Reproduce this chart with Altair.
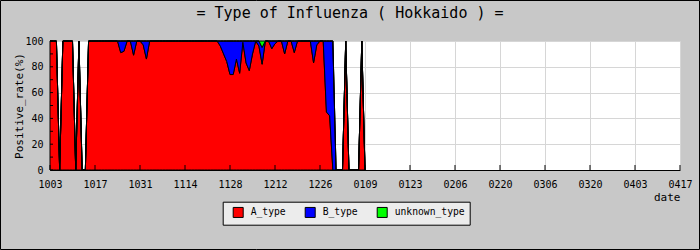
import altair as alt
import pandas as pd

title_text = "= Type of Influenza ( Hokkaido ) ="
start_date = "2016-10-03"
tick_labels = ["1003", "1017", "1031", "1114", "1128", "1212", "1226", "0109",
               "0123", "0206", "0220", "0306", "0320", "0403", "0417"]
series_names = ["A_type", "B_type", "unknown_type"]
series_colors = ["#ff0000", "#0000ff", "#00ff00"]
y_minor_ticks = [0, 10, 20, 30, 40, 50, 60, 70, 80, 90, 100]
y_labels = [0, 20, 40, 60, 80, 100]

# daily positive rate (%) from 10/03
a_type = [100, 100, 100, 0, 100, 100, 100, 100, 0, 100,
          0, 0, 100, 100, 100, 100, 100, 100, 100, 100,
          100, 100, 91, 92, 100, 100, 89, 100, 100, 97,
          86, 100, 100, 100, 100, 100, 100, 100, 100, 100,
          100, 100, 100, 100, 100, 100, 100, 100, 100, 100,
          100, 100, 100, 96, 90, 84, 74, 74, 86, 75,
          99, 83, 77, 90, 100, 96, 82, 100, 100, 94,
          98, 100, 100, 90, 100, 100, 91, 100, 100, 100,
          100, 100, 83, 97, 100, 100, 45, 42, 0, 0,
          0, 0, 100, 0, 0, 0, 0, 100, 0]
b_type = [0, 0, 0, 0, 0, 0, 0, 0, 0, 0,
          0, 0, 0, 0, 0, 0, 0, 0, 0, 0,
          0, 0, 9, 8, 0, 0, 11, 0, 0, 3,
          14, 0, 0, 0, 0, 0, 0, 0, 0, 0,
          0, 0, 0, 0, 0, 0, 0, 0, 0, 0,
          0, 0, 0, 4, 10, 16, 26, 26, 14, 25,
          1, 17, 23, 10, 0, 4, 13, 0, 0, 6,
          2, 0, 0, 10, 0, 0, 9, 0, 0, 0,
          0, 0, 17, 3, 0, 0, 55, 58, 100, 0,
          0, 0, 0, 0, 0, 0, 0, 0, 0]
unknown_type = [0, 0, 0, 0, 0, 0, 0, 0, 0, 0,
                0, 0, 0, 0, 0, 0, 0, 0, 0, 0,
                0, 0, 0, 0, 0, 0, 0, 0, 0, 0,
                0, 0, 0, 0, 0, 0, 0, 0, 0, 0,
                0, 0, 0, 0, 0, 0, 0, 0, 0, 0,
                0, 0, 0, 0, 0, 0, 0, 0, 0, 0,
                0, 0, 0, 0, 0, 0, 5, 0, 0, 0,
                0, 0, 0, 0, 0, 0, 0, 0, 0, 0,
                0, 0, 0, 0, 0, 0, 0, 0, 0, 0,
                0, 0, 0, 0, 0, 0, 0, 0, 0]

dates = pd.date_range(start_date, periods=len(a_type), freq="D")
ms = [int(d.value // 10**6) for d in dates]

rows = []
for i, t in enumerate(ms):
    for k, (name, vals) in enumerate(zip(series_names, [a_type, b_type, unknown_type])):
        rows.append({"t": t, "type": name, "v": vals[i], "k": k})
df = pd.DataFrame(rows)

tick_ms = []
for lab in tick_labels:
    m, d = int(lab[:2]), int(lab[2:])
    y = 2016 if m >= 10 else 2017
    tick_ms.append(int(pd.Timestamp(f"{y}-{m:02d}-{d:02d}").value // 10**6))

FONT = "DejaVu Sans Mono"
x_scale = alt.Scale(type="utc", domain=[tick_ms[0], tick_ms[-1]], nice=False)
y_scale = alt.Scale(domain=[0, 100], nice=False)

x_axis = alt.Axis(
    values=tick_ms, labelExpr="utcFormat(datum.value, '%m%d')", title="date",
    grid=True, ticks=False, labelFlush=False, labelOverlap=False,
    labelPadding=9, titleX=630, titleY=21, titleAlign="right",
    titleBaseline="top", titleAnchor="end")
y_axis = alt.Axis(
    values=y_labels, title="Positive_rate(%)", ticks=False,
    labelPadding=7, labelFlush=False, titleX=-31, titleY=64.5,
    titleAngle=270, titleAlign="center", titleBaseline="middle")

area = alt.Chart(df).mark_area(
    interpolate="linear", stroke="black", strokeWidth=1, opacity=1
).encode(
    x=alt.X("t:T", scale=x_scale, axis=x_axis, title="date"),
    y=alt.Y("v:Q", stack="zero", scale=y_scale, axis=y_axis, title="Positive_rate(%)"),
    color=alt.Color("type:N", scale=alt.Scale(domain=series_names, range=series_colors),
                    legend=alt.Legend(
                        orient="none", legendX=172.7, legendY=160.7, direction="horizontal",
                        title=None, fillColor="#ececec", strokeColor="black", padding=5,
                        symbolType="square", symbolSize=100, symbolStrokeColor="black",
                        symbolStrokeWidth=1, symbolOpacity=1, labelFont=FONT,
                        labelFontSize=9.7, labelOffset=7, columnPadding=14, symbolOffset=5)),
    order=alt.Order("k:Q", sort="ascending"),
)

yticks = alt.Chart(pd.DataFrame({"v": y_minor_ticks})).mark_rule(color="black").encode(
    y=alt.Y("v:Q", scale=y_scale, axis=y_axis, title="Positive_rate(%)"),
    x=alt.value(0), x2=alt.value(3),
)

xticks = alt.Chart(pd.DataFrame({"t": tick_ms})).mark_rule(color="black").encode(
    x=alt.X("t:T", scale=x_scale, axis=x_axis, title="date"),
    y=alt.value(129), y2=alt.value(124),
)

frame = alt.Chart(pd.DataFrame({"a": [0]})).mark_rect(
    filled=False, stroke="black", strokeWidth=1
).encode(
    x=alt.value(-49.5), x2=alt.value(649.5), y=alt.value(-40.5), y2=alt.value(208.5)
)

title = alt.Chart(pd.DataFrame({"title": [title_text]})).mark_text(
    font=FONT, fontSize=15, align="center", baseline="middle", color="black"
).encode(
    text="title:N", x=alt.value(300), y=alt.value(-28)
)

chart = alt.layer(area, yticks, xticks, frame, title).properties(
    width=630, height=129,
    autosize=alt.AutoSizeParams(type="none"),
    padding={"left": 50, "top": 41, "right": 20, "bottom": 80},
    background="#c8c8c8",
).configure_view(stroke=None, fill="white").configure_axis(
    domainColor="black", domainWidth=1, gridColor="#d6d6d6", gridWidth=1,
    labelFont=FONT, labelFontSize=10, labelColor="black",
    titleFont=FONT, titleFontSize=11, titleFontWeight="normal", titleColor="black",
)

chart.save("out.html", embed_options={"renderer": "svg", "actions": False})
